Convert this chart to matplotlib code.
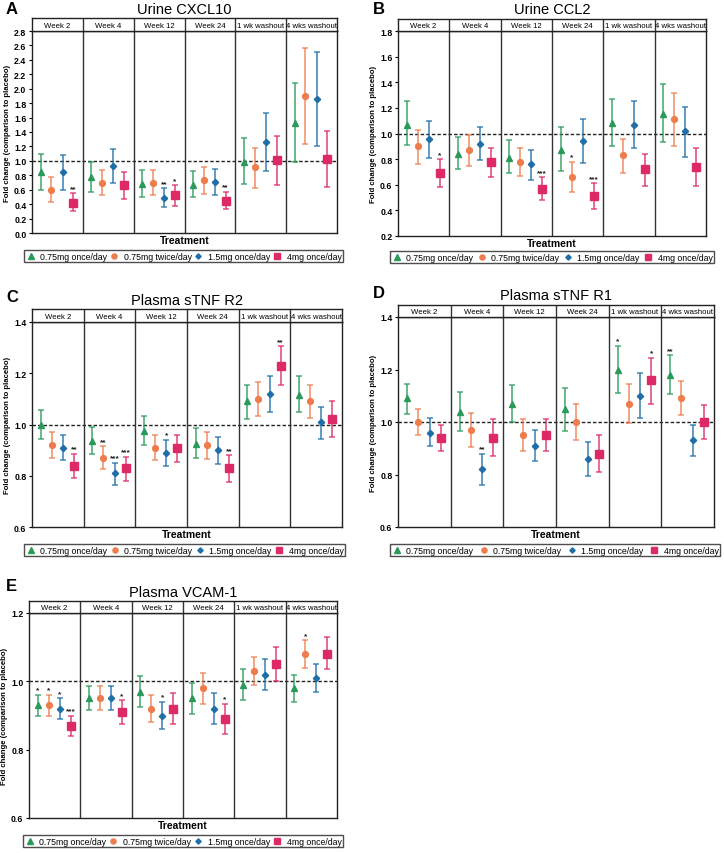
import matplotlib
matplotlib.use('Agg')
import matplotlib.pyplot as plt
import numpy as np

plt.rcParams['font.family'] = ['Liberation Sans', 'DejaVu Sans']

W, H = 724, 854

timepoints = ['Week 2', 'Week 4', 'Week 12', 'Week 24', '1 wk washout', '4 wks washout']
doses = ['0.75mg once/day', '0.75mg twice/day', '1.5mg once/day', '4mg once/day']
colors = ['#2a9a5a', '#ee7d4e', '#1f6ea8', '#dd2a66']
markers = ['^', 'o', 'D', 's']
msizes = [4.2, 4.2, 3.2, 5.2]
offsets = [0.17, 0.38, 0.60, 0.81]

# Panel A - Urine CXCL10 (rows = doses, cols = timepoints)
A_mean = [[0.84, 0.77, 0.68, 0.67, 0.99, 1.52],
          [0.60, 0.70, 0.70, 0.73, 0.91, 1.90],
          [0.84, 0.93, 0.49, 0.71, 1.26, 1.86],
          [0.42, 0.66, 0.52, 0.45, 1.01, 1.03]]
A_lo = [[0.60, 0.57, 0.50, 0.50, 0.68, 0.98],
        [0.43, 0.52, 0.52, 0.54, 0.63, 1.23],
        [0.60, 0.69, 0.36, 0.53, 0.86, 1.20],
        [0.30, 0.47, 0.38, 0.33, 0.67, 0.64]]
A_hi = [[1.10, 0.99, 0.88, 0.86, 1.32, 2.08],
        [0.77, 0.88, 0.88, 0.92, 1.18, 2.56],
        [1.08, 1.17, 0.62, 0.89, 1.66, 2.51],
        [0.55, 0.84, 0.66, 0.57, 1.35, 1.42]]
A_sig = [['', '', '', '', '', ''],
         ['', '', '', '', '', ''],
         ['', '', '**', '', '', ''],
         ['**', '', '*', '**', '', '']]

# Panel B - Urine CCL2
B_mean = [[1.07, 0.84, 0.81, 0.87, 1.08, 1.15],
          [0.90, 0.87, 0.78, 0.66, 0.83, 1.11],
          [0.96, 0.92, 0.76, 0.94, 1.07, 1.02],
          [0.69, 0.78, 0.57, 0.51, 0.72, 0.74]]
B_lo = [[0.91, 0.72, 0.69, 0.71, 0.90, 0.93],
        [0.76, 0.75, 0.67, 0.54, 0.69, 0.90],
        [0.81, 0.79, 0.64, 0.77, 0.89, 0.82],
        [0.58, 0.66, 0.48, 0.41, 0.59, 0.59]]
B_hi = [[1.25, 0.97, 0.95, 1.05, 1.27, 1.39],
        [1.03, 0.99, 0.89, 0.78, 0.96, 1.32],
        [1.10, 1.05, 0.87, 1.11, 1.25, 1.21],
        [0.80, 0.89, 0.66, 0.61, 0.84, 0.89]]
B_sig = [['', '', '', '', '', ''],
         ['', '', '', '*', '', ''],
         ['', '', '', '', '', ''],
         ['*', '', '***', '***', '', '']]

# Panel C - Plasma sTNF R2
C_mean = [[1.00, 0.935, 0.975, 0.925, 1.09, 1.115],
          [0.92, 0.87, 0.91, 0.92, 1.10, 1.09],
          [0.91, 0.81, 0.89, 0.90, 1.12, 1.01],
          [0.84, 0.83, 0.91, 0.83, 1.23, 1.02]]
C_lo = [[0.945, 0.885, 0.92, 0.87, 1.02, 1.05],
        [0.87, 0.825, 0.86, 0.865, 1.035, 1.025],
        [0.86, 0.765, 0.84, 0.845, 1.05, 0.945],
        [0.79, 0.78, 0.855, 0.775, 1.155, 0.95]]
C_hi = [[1.055, 0.99, 1.035, 0.985, 1.155, 1.19],
        [0.97, 0.915, 0.96, 0.97, 1.165, 1.155],
        [0.96, 0.85, 0.94, 0.95, 1.19, 1.07],
        [0.885, 0.875, 0.96, 0.88, 1.305, 1.09]]
C_sig = [['', '', '', '', '', ''],
         ['', '**', '', '', '', ''],
         ['', '***', '*', '', '', ''],
         ['**', '***', '', '**', '**', '']]

# Panel D - Plasma sTNF R1
D_mean = [[1.09, 1.04, 1.07, 1.05, 1.20, 1.18],
          [1.00, 0.97, 0.95, 1.00, 1.07, 1.09],
          [0.96, 0.82, 0.91, 0.86, 1.10, 0.93],
          [0.94, 0.94, 0.95, 0.88, 1.16, 1.00]]
D_lo = [[1.03, 0.965, 1.00, 0.965, 1.11, 1.105],
        [0.95, 0.905, 0.89, 0.93, 0.995, 1.025],
        [0.91, 0.76, 0.85, 0.795, 1.015, 0.87],
        [0.89, 0.87, 0.89, 0.81, 1.07, 0.935]]
D_hi = [[1.145, 1.115, 1.14, 1.13, 1.29, 1.255],
        [1.05, 1.035, 1.01, 1.07, 1.145, 1.155],
        [1.015, 0.88, 0.97, 0.925, 1.185, 0.99],
        [0.99, 1.01, 1.01, 0.95, 1.245, 1.065]]
D_sig = [['', '', '', '', '*', '**'],
         ['', '', '', '', '', ''],
         ['', '**', '', '', '', ''],
         ['', '', '', '', '*', '']]

# Panel E - Plasma VCAM-1
E_mean = [[0.93, 0.95, 0.97, 0.95, 0.99, 0.98],
          [0.93, 0.95, 0.92, 0.98, 1.03, 1.08],
          [0.92, 0.95, 0.90, 0.92, 1.02, 1.01],
          [0.87, 0.91, 0.92, 0.89, 1.05, 1.08]]
E_lo = [[0.90, 0.915, 0.925, 0.905, 0.945, 0.94],
        [0.90, 0.915, 0.88, 0.935, 0.99, 1.04],
        [0.89, 0.915, 0.86, 0.875, 0.975, 0.97],
        [0.84, 0.875, 0.875, 0.845, 1.00, 1.035]]
E_hi = [[0.96, 0.985, 1.015, 0.995, 1.035, 1.02],
        [0.96, 0.985, 0.96, 1.025, 1.07, 1.12],
        [0.95, 0.985, 0.94, 0.965, 1.065, 1.05],
        [0.90, 0.945, 0.965, 0.935, 1.10, 1.13]]
E_sig = [['*', '', '', '', '', ''],
         ['*', '', '', '', '', '*'],
         ['*', '', '*', '', '', ''],
         ['***', '*', '', '*', '', '']]

fig = plt.figure(figsize=(W / 100, H / 100), dpi=100)


def fx(px):
    return px / W


def fy(py):
    return 1 - py / H


def draw_panel(letter, title, box, strip_top, title_y, letter_xy, legend_box, treat_y,
               mean, lo, hi, sig, ylim, yticks, star_pad):
    left, right, top, bottom = box
    ax = fig.add_axes([fx(left), fy(bottom), fx(right - left), (bottom - top) / H])
    for d in range(4):
        xs = np.arange(6) + offsets[d]
        m = np.array(mean[d])
        err = [m - np.array(lo[d]), np.array(hi[d]) - m]
        ax.errorbar(xs, m, yerr=err, fmt='none', ecolor=colors[d], elinewidth=1.3,
                    capsize=2.5, capthick=1.2, alpha=0.75, zorder=2)
        ax.plot(xs, m, linestyle='none', marker=markers[d], ms=msizes[d],
                color=colors[d], mec=colors[d], zorder=3)
        for i, s in enumerate(sig[d]):
            if s:
                ax.text(xs[i], hi[d][i] + star_pad, s, ha='center', va='bottom',
                        fontsize=6, fontweight='bold', color='#222222')
    ax.axhline(1.0, color='#222222', linestyle=(0, (2.5, 1.5)), linewidth=1.0, zorder=1)
    for b in range(1, 6):
        ax.axvline(b, color='#333333', linewidth=1.0, zorder=1)
    ax.set_xlim(0, 6)
    ax.set_ylim(*ylim)
    ax.set_yticks(yticks)
    ax.set_yticklabels(['%.1f' % v for v in yticks], fontsize=6.3, fontweight='bold')
    ax.set_xticks([])
    ax.tick_params(axis='y', length=2.5, width=0.8, pad=1.5)
    for sp in ax.spines.values():
        sp.set_linewidth(1.0)
        sp.set_color('#222222')
    ax.set_ylabel('Fold change (comparison to placebo)', fontsize=5.6, fontweight='bold',
                  labelpad=2.5)

    # strip header
    sx = fig.add_axes([fx(left), fy(top), fx(right - left), (top - strip_top) / H])
    sx.set_xlim(0, 6)
    sx.set_ylim(0, 1)
    sx.set_xticks([])
    sx.set_yticks([])
    for sp in sx.spines.values():
        sp.set_linewidth(1.0)
        sp.set_color('#222222')
    for b in range(1, 6):
        sx.axvline(b, color='#333333', linewidth=1.0)
    for i, t in enumerate(timepoints):
        sx.text(i + 0.5, 0.45, t, ha='center', va='center', fontsize=5.6)

    fig.text(fx((left + right) / 2), fy(title_y), title, ha='center', va='center', fontsize=10.5)
    fig.text(fx(letter_xy[0]), fy(letter_xy[1]), letter, ha='left', va='center',
             fontsize=12, fontweight='bold')
    fig.text(fx((left + right) / 2), fy(treat_y), 'Treatment', ha='center', va='center',
             fontsize=7.5, fontweight='bold')

    lx0, lx1, ly0, ly1 = legend_box
    handles = [plt.Line2D([], [], linestyle='none', marker=markers[d], ms=msizes[d] - 0.5,
                          color=colors[d]) for d in range(4)]
    leg = fig.legend(handles, doses, loc='lower left', ncol=4, mode='expand',
                     bbox_to_anchor=(fx(lx0), fy(ly1), fx(lx1 - lx0), (ly1 - ly0) / H),
                     fontsize=6.3, frameon=True, fancybox=False, borderpad=0.15,
                     handletextpad=0.5, handlelength=1.2, borderaxespad=0.0)
    leg.get_frame().set_edgecolor('#222222')
    leg.get_frame().set_linewidth(1.0)


draw_panel('A', 'Urine CXCL10', (32, 337, 32, 234), 19, 10, (6, 10), (24, 343, 251, 263), 241,
           A_mean, A_lo, A_hi, A_sig, (0, 2.8), np.arange(0, 2.81, 0.2), 0.02)
draw_panel('B', 'Urine CCL2', (398, 706, 32, 237), 20, 10, (373, 10), (390, 714, 252, 264), 244,
           B_mean, B_lo, B_hi, B_sig, (0.2, 1.8), np.arange(0.2, 1.81, 0.2), 0.01)
draw_panel('C', 'Plasma sTNF R2', (32, 342, 323, 528), 310, 301, (6, 297), (24, 345, 544, 557), 535,
           C_mean, C_lo, C_hi, C_sig, (0.6, 1.4), np.arange(0.6, 1.41, 0.2), 0.005)
draw_panel('D', 'Plasma sTNF R1', (398, 714, 318, 528), 306, 296, (373, 293), (390, 720, 545, 557), 535,
           D_mean, D_lo, D_hi, D_sig, (0.6, 1.4), np.arange(0.6, 1.41, 0.2), 0.005)
draw_panel('E', 'Plasma VCAM-1', (29, 337, 614, 819), 602, 593, (6, 587), (23, 343, 837, 848), 826,
           E_mean, E_lo, E_hi, E_sig, (0.6, 1.2), np.arange(0.6, 1.21, 0.2), 0.004)

fig.savefig('out.png', dpi=100)
